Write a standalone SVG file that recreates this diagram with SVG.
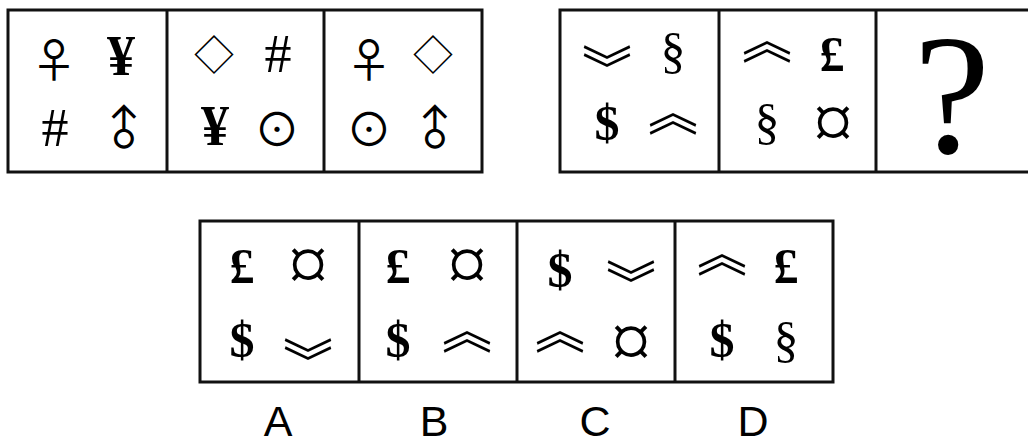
<svg xmlns="http://www.w3.org/2000/svg" width="1028" height="443" viewBox="0 0 1028 443">
<style>
.box{fill:#fff;stroke:#111;stroke-width:3}
.div{stroke:#111;stroke-width:3}
text{text-anchor:middle;dominant-baseline:central;fill:#000}
.cur{font-family:"Liberation Serif",serif;font-weight:bold;font-size:50px}
.yen{font-family:"Liberation Serif",serif;font-weight:bold;font-size:56px}
.sec{font-family:"Liberation Serif",serif;font-size:50px}
.gen{font-family:"Liberation Serif",serif;font-size:80px}
.hash{font-family:"Liberation Serif",serif;font-size:54px}
.sym{font-family:"Noto Sans CJK SC",sans-serif;font-size:46px}
.dia{font-family:"Noto Sans CJK SC",sans-serif;font-size:40px}
.chev{font-family:"Noto Sans CJK SC",sans-serif;font-size:50px}
.q{font-family:"Liberation Serif",serif;font-size:172px;dominant-baseline:alphabetic}
.lab{font-family:"Liberation Sans",sans-serif;font-size:43px;dominant-baseline:alphabetic}
</style>
<g id="row-top-left">
<rect class="box" x="8" y="10" width="474" height="162"/>
<line class="div" x1="167" y1="10" x2="167" y2="172"/>
<line class="div" x1="324" y1="10" x2="324" y2="172"/>
<g id="tl-cell1">
<text class="sym" x="54" y="57">♀</text>
<text class="yen" x="121" y="56">¥</text>
<text class="hash" x="55" y="128">#</text>
<text class="sym" x="122" y="126" transform="rotate(-45 122 126)">♂</text>
</g>
<g id="tl-cell2">
<text class="dia" x="214" y="53">◇</text>
<text class="hash" x="278" y="54">#</text>
<text class="yen" x="215" y="126">¥</text>
<text class="sym" x="277" y="126">⊙</text>
</g>
<g id="tl-cell3">
<text class="sym" x="369" y="57">♀</text>
<text class="dia" x="433" y="53">◇</text>
<text class="sym" x="369" y="126">⊙</text>
<text class="sym" x="433" y="126" transform="rotate(-45 433 126)">♂</text>
</g>
</g>
<g id="row-top-right">
<rect class="box" x="560" y="10" width="480" height="162"/>
<line class="div" x1="719" y1="10" x2="719" y2="172"/>
<line class="div" x1="876" y1="10" x2="876" y2="172"/>
<g id="tr-cell1">
<text class="chev" x="607" y="66">︾</text>
<text class="sec" x="673" y="51">§</text>
<text class="cur" x="607" y="123">$</text>
<text class="chev" x="673" y="108">︽</text>
</g>
<g id="tr-cell2">
<text class="chev" x="767" y="36">︽</text>
<text class="cur" x="832" y="54">£</text>
<text class="sec" x="767" y="122">§</text>
<text class="gen" x="833" y="122">¤</text>
</g>
<g id="tr-cell3">
<text class="q" x="952" y="153">?</text>
</g>
</g>
<g id="options">
<rect class="box" x="200" y="221" width="633" height="161"/>
<line class="div" x1="359" y1="221" x2="359" y2="382"/>
<line class="div" x1="517" y1="221" x2="517" y2="382"/>
<line class="div" x1="675" y1="221" x2="675" y2="382"/>
<g id="option-A">
<text class="cur" x="242" y="266">£</text>
<text class="gen" x="308" y="264">¤</text>
<text class="cur" x="242" y="340">$</text>
<text class="chev" x="308" y="359">︾</text>
<text class="lab" x="278" y="436">A</text>
</g>
<g id="option-B">
<text class="cur" x="398" y="266">£</text>
<text class="gen" x="467" y="264">¤</text>
<text class="cur" x="398" y="340">$</text>
<text class="chev" x="467" y="326">︽</text>
<text class="lab" x="434" y="436">B</text>
</g>
<g id="option-C">
<text class="cur" x="560" y="270">$</text>
<text class="chev" x="631" y="281">︾</text>
<text class="chev" x="560" y="326">︽</text>
<text class="gen" x="631" y="341">¤</text>
<text class="lab" x="595" y="436">C</text>
</g>
<g id="option-D">
<text class="chev" x="722" y="249">︽</text>
<text class="cur" x="786" y="266">£</text>
<text class="cur" x="722" y="340">$</text>
<text class="sec" x="786" y="340">§</text>
<text class="lab" x="753" y="436">D</text>
</g>
</g>
</svg>
